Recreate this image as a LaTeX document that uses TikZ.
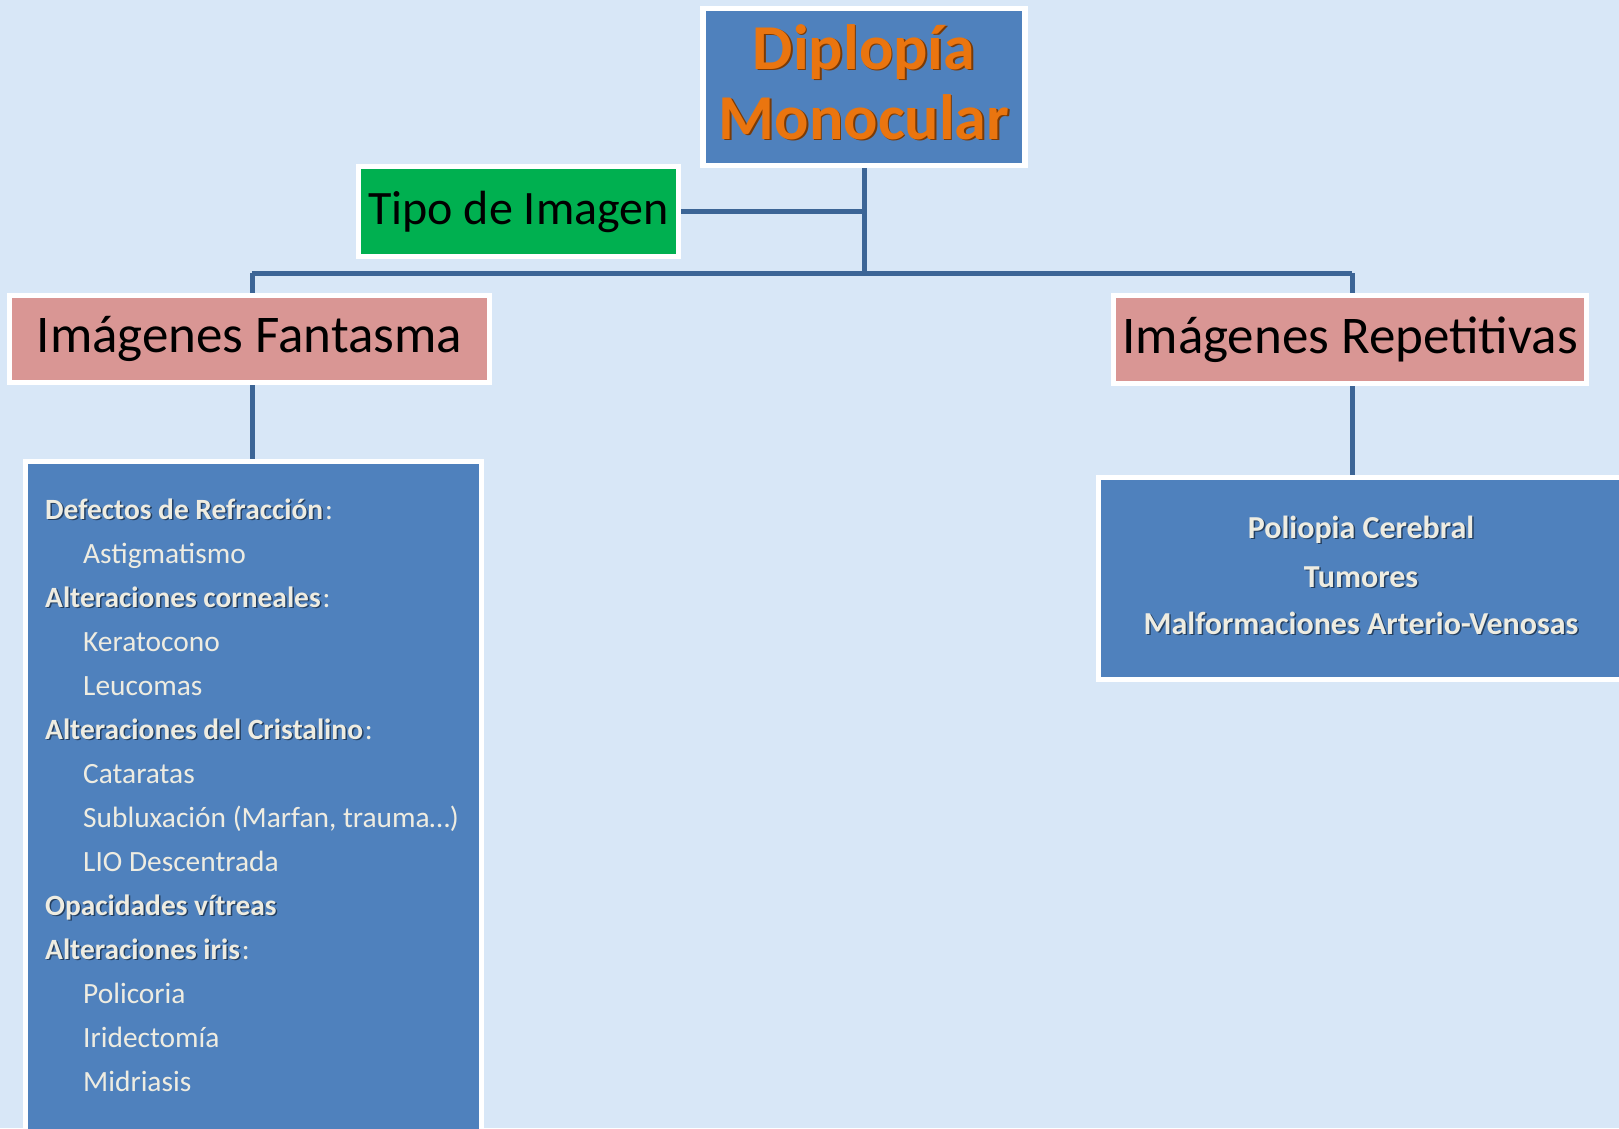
\documentclass[tikz,border=0pt]{standalone}
\usepackage{fontspec}
\setmainfont{Carlito}
\definecolor{bg}{HTML}{D8E7F7}
\definecolor{boxblue}{HTML}{4F81BD}
\definecolor{linkblue}{HTML}{3C6596}
\definecolor{rose}{HTML}{D99694}
\definecolor{leaf}{HTML}{00B050}
\definecolor{cream}{HTML}{EEECE1}
\definecolor{titleorange}{HTML}{EA750F}
\definecolor{titleshadow}{HTML}{7A3A06}
\definecolor{textshadow}{HTML}{243F60}
\pgfdeclarelayer{back}
\pgfsetlayers{back,main}
% text with a small dark drop shadow
\newcommand{\dropshadow}[2]{\leavevmode\rlap{\hspace{1.5pt}\raisebox{-1.5pt}{\color{#1}#2}}#2}
\newcommand{\hd}[1]{\textbf{\dropshadow{textshadow}{#1}}}
% bold heading followed by a plain colon
\newcommand{\hdc}[1]{\hd{#1}\kern1.8pt:}
\tikzset{
  card/.style={draw=white, line width=5.5pt, rectangle, inner sep=0pt},
  link/.style={draw=linkblue, line width=5pt},
  itemtext/.style={text=cream, inner sep=0pt, font=\fontsize{29.4}{36}\selectfont},
  itemtextR/.style={text=cream, inner sep=0pt, font=\fontsize{32}{36}\selectfont\bfseries},
}
\begin{document}
\begin{tikzpicture}[x=1pt, y=-1pt]
\useasboundingbox (0,0) rectangle (1619,1128);
\begin{pgfonlayer}{back}
  \fill[bg] (0,0) rectangle (1619,1128);
\end{pgfonlayer}
\clip (0,0) rectangle (1619,1128);

% main boxes
\node[card, fill=boxblue, minimum width=322pt, minimum height=157pt,
      text=titleorange, align=center, font=\fontsize{64}{70}\selectfont\bfseries]
  (title) at (864,87) {\dropshadow{titleshadow}{Diplopía}\\\dropshadow{titleshadow}{Monocular}\rule[-10pt]{0pt}{0pt}};
\node[card, fill=leaf, minimum width=320pt, minimum height=90pt,
      font=\fontsize{48}{56}\selectfont]
  (tipo) at (518.5,211.5) {Tipo de Imagen};
\node[card, fill=rose, minimum width=480pt, minimum height=87pt,
      font=\fontsize{53}{60}\selectfont]
  (fant) at (249.5,339) {Imágenes Fantasma};
\node[card, fill=rose, minimum width=473pt, minimum height=88pt,
      font=\fontsize{53}{60}\selectfont]
  (rep) at (1350,339.5) {Imágenes Repetitivas};
\node[card, fill=boxblue, minimum width=456pt, minimum height=688.5pt]
  (listL) at (253.5,805.75) {};
\node[card, fill=boxblue, minimum width=551.5pt, minimum height=202pt]
  (listR) at (1374.25,578.5) {};

% causes of ghost images
\foreach \ind/\txt [count=\i from 0] in {
  0/{\hdc{Defectos de Refracción}},
  1/{Astigmatismo},
  0/{\hdc{Alteraciones corneales}},
  1/{Keratocono},
  1/{Leucomas},
  0/{\hdc{Alteraciones del Cristalino}},
  1/{Cataratas},
  1/{Subluxación (Marfan, trauma…)},
  1/{LIO Descentrada},
  0/{\hd{Opacidades vítreas}},
  0/{\hdc{Alteraciones iris}},
  1/{Policoria},
  1/{Iridectomía},
  1/{Midriasis}}
  \node[itemtext, anchor=base west] (lf\i) at ({45+38*\ind},{519+44*\i}) {\txt};

% causes of repeated images
\foreach \txt/\yy [count=\i] in {Poliopia Cerebral/538, Tumores/587, Malformaciones Arterio-Venosas/634}
  \node[itemtextR, anchor=base] (rr\i) at (1361,\yy) {\dropshadow{textshadow}{\txt}};

% connectors
\coordinate (busL) at (252,273);
\coordinate (busR) at (1352,273);
\begin{pgfonlayer}{back}
  \draw[link] (title.south) -- (title.south |- busL);
  \draw[link] (tipo.east) -- (tipo.east -| title.south);
  \draw[link] (busL) -- (busR);
  \draw[link] (busL) -- (busL |- fant.north);
  \draw[link] (busR) -- (busR |- rep.north);
  \draw[link] (busL |- fant.south) -- (busL |- listL.north);
  \draw[link] (busR |- rep.south) -- (busR |- listR.north);
\end{pgfonlayer}
\end{tikzpicture}
\end{document}
